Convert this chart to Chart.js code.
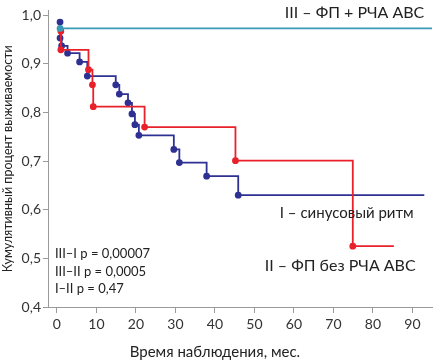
<!DOCTYPE html>
<html lang="ru">
<head>
<meta charset="UTF-8" />
<title>Кумулятивная выживаемость</title>
<script src="https://cdn.jsdelivr.net/npm/chart.js"></script>
<style>
  html, body { margin:0; padding:0; background:#fff; }
  .wrap { width:438px; height:363px; position:relative; }
</style>
</head>
<body>
<div class="wrap"><canvas id="km" width="438" height="363"></canvas></div>
<script>
// time (months) and cumulative survival for each group
const monthsI   = [0.8, 0.8, 1.2, 2.7, 5.75, 7.7, 14.9, 15.8, 18, 19, 19.75, 20.75, 29.6, 31, 37.9, 45.9, 93];
const survivalI = [0.986, 0.953, 0.937, 0.922, 0.904, 0.875, 0.857, 0.838, 0.82, 0.797, 0.775, 0.753, 0.724, 0.697, 0.669, 0.63, 0.63];

const monthsII   = [1, 1, 8, 9, 9.2, 22.2, 45.2, 74.9, 85.3];
const survivalII = [0.967, 0.929, 0.888, 0.857, 0.812, 0.77, 0.701, 0.525, 0.525];

const monthsIII   = [0.8, 95];
const survivalIII = [0.973, 0.973];

const xTicks = [0, 10, 20, 30, 40, 50, 60, 70, 80, 90];
const yTicks = [0.4, 0.5, 0.6, 0.7, 0.8, 0.9, 1.0];

const pValues = ['III–I p = 0,00007', 'III–II p = 0,0005', 'I–II p = 0,47'];

const toPoints = (xs, ys) => xs.map((x, i) => ({x, y: ys[i]}));
const lastless = (n, r) => Array.from({length:n}, (_, i) => i === n - 1 ? 0 : r);

const FONT = 'Lato, "Open Sans", sans-serif';
const BLUE = '#2e3192', RED = '#e8212b', TEAL = '#3b9bb6', AXIS = '#9a9a9a';

// labels drawn next to the curves, anchored on data coords
const labels = {
  id: 'kmLabels',
  afterDatasetsDraw(chart) {
    const {ctx, scales:{x, y}} = chart;
    ctx.save();
    ctx.textBaseline = 'middle';
    ctx.fillStyle = '#222';
    ctx.textAlign = 'right';
    ctx.font = '16px ' + FONT;
    ctx.fillText('III – ФП + РЧА АВС', x.getPixelForValue(93), y.getPixelForValue(1.004));
    ctx.fillText('II – ФП без РЧА АВС', x.getPixelForValue(90.8), y.getPixelForValue(0.484));
    ctx.font = '15px ' + FONT;
    ctx.fillText('I – синусовый ритм', x.getPixelForValue(90.3), y.getPixelForValue(0.592));
    ctx.textAlign = 'left';
    ctx.font = '13px ' + FONT;
    pValues.forEach((t, i) => {
      ctx.fillText(t, x.getPixelForValue(-0.5), y.getPixelForValue(0.509 - i * 0.036));
    });
    ctx.textAlign = 'center';
    ctx.font = '15px ' + FONT;
    ctx.fillText('Время наблюдения, мес.', x.getPixelForValue(40), 352);
    ctx.restore();
  }
};

new Chart(document.getElementById('km'), {
  type: 'line',
  data: {
    datasets: [
      {label:'III', data: toPoints(monthsIII, survivalIII), borderColor: TEAL, backgroundColor: TEAL,
       borderWidth: 1.8, pointRadius: lastless(2, 2.5), stepped: 'before'},
      {label:'II', data: toPoints(monthsII, survivalII), borderColor: RED, backgroundColor: RED,
       borderWidth: 1.8, pointRadius: lastless(monthsII.length, 2.5), stepped: 'before'},
      {label:'I', data: toPoints(monthsI, survivalI), borderColor: BLUE, backgroundColor: BLUE,
       borderWidth: 1.8, pointRadius: lastless(monthsI.length, 2.5), stepped: 'before'}
    ]
  },
  options: {
    responsive: false,
    animation: false,
    devicePixelRatio: 1,
    layout: { padding: 0 },
    plugins: { legend: {display:false}, tooltip: {enabled:false} },
    scales: {
      x: {
        type: 'linear', min: -2.25, max: 95,
        afterFit: s => { s.height = 56; },
        afterBuildTicks: s => { s.ticks = xTicks.map(v => ({value: v})); },
        ticks: { font: {family: FONT, size: 14}, color: '#333', padding: 3, maxRotation: 0 },
        grid: { drawOnChartArea: false, tickLength: 6, color: AXIS },
        border: { color: AXIS }
      },
      y: {
        type: 'linear', min: 0.4, max: 1.01,
        afterFit: s => { s.width = 48; },
        afterBuildTicks: s => { s.ticks = yTicks.map(v => ({value: v})); },
        ticks: { font: {family: FONT, size: 14}, color: '#333', padding: 2,
                 callback: v => v.toFixed(1).replace('.', ',') },
        grid: { drawOnChartArea: false, tickLength: 5, color: AXIS },
        border: { color: AXIS },
        title: { display: true, text: 'Кумулятивный процент выживаемости',
                 font: {family: FONT, size: 12.5}, color: '#222', padding: 0 }
      }
    }
  },
  plugins: [labels]
});
</script>
</body>
</html>
